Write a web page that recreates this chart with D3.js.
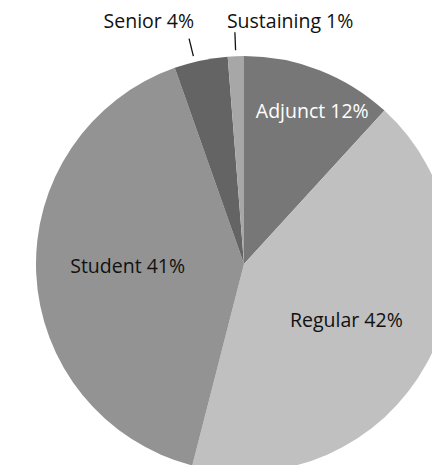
<!DOCTYPE html>
<html><head><meta charset="utf-8">
<script src="https://cdn.jsdelivr.net/npm/d3@7"></script>
<style>html,body{margin:0;padding:0;background:#fff;overflow:hidden}</style>
</head><body>
<svg id="chart" width="432" height="465"></svg>
<script>
const categories = ["Adjunct", "Regular", "Student", "Senior", "Sustaining"];
const values = [11.8, 42.2, 40.6, 4.15, 1.25];
const percentLabels = ["12%", "42%", "41%", "4%", "1%"];
const colors = ["#777777", "#c0c0c0", "#939393", "#636463", "#a7a7a7"];
const labelColors = ["#ffffff", "#111111", "#111111", "#111111", "#111111"];

const svg = d3.select("#chart");
const cx = 244, cy = 264, R = 208;
const g = svg.append("g").attr("transform", `translate(${cx},${cy})`);

const data = categories.map((c, i) => ({name: c, value: values[i], pct: percentLabels[i], color: colors[i], tc: labelColors[i]}));
const pie = d3.pie().value(d => d.value).sort(null);
const arcs = pie(data);
const arc = d3.arc().innerRadius(0).outerRadius(R);

g.selectAll("path.slice").data(arcs).enter().append("path")
  .attr("class", "slice")
  .attr("d", arc)
  .attr("fill", d => d.data.color);

const font = "'Open Sans', sans-serif";
const fs = 19.5;
const mid = d => (d.startAngle + d.endAngle) / 2;

// inside labels
const inside = arcs.filter(d => d.data.value >= 10);
const lr = d => d.data.value < 20 ? R * 0.8 : R * 0.56;
const yShift = d => d.data.value < 20 ? 2 : (mid(d) > Math.PI ? -3 : 1);
g.selectAll("text.in").data(inside).enter().append("text")
  .attr("class", "in")
  .attr("x", d => Math.sin(mid(d)) * lr(d) + (d.data.value < 20 ? 8 : 0))
  .attr("y", d => -Math.cos(mid(d)) * lr(d) + yShift(d))
  .attr("dy", "0.35em")
  .attr("text-anchor", "middle")
  .attr("font-family", font).attr("font-size", fs)
  .attr("fill", d => d.data.tc)
  .text(d => d.data.name + " " + d.data.pct);

// outside labels with leader lines
const outside = arcs.filter(d => d.data.value < 10);
const r1 = R + 6, r2 = R + 24;
const leadAngle = (d, i) => mid(d) - (i === 0 ? 0.03 : 0);
g.selectAll("line.lead").data(outside).enter().append("line")
  .attr("class", "lead")
  .attr("x1", (d, i) => Math.sin(leadAngle(d, i)) * r1)
  .attr("y1", (d, i) => -Math.cos(leadAngle(d, i)) * r1)
  .attr("x2", (d, i) => Math.sin(leadAngle(d, i)) * r2)
  .attr("y2", (d, i) => -Math.cos(leadAngle(d, i)) * r2)
  .attr("stroke", "#111").attr("stroke-width", 1.3);

outside.forEach((d, i) => {
  const tx = Math.sin(leadAngle(d, i)) * r2;
  const left = i === 0;
  g.append("text")
    .attr("x", left ? tx + 5 : tx - 8)
    .attr("y", -R - 28)
    .attr("text-anchor", left ? "end" : "start")
    .attr("font-family", font).attr("font-size", fs)
    .attr("fill", d.data.tc)
    .text(d.data.name + " " + d.data.pct);
});
</script>
</body></html>
